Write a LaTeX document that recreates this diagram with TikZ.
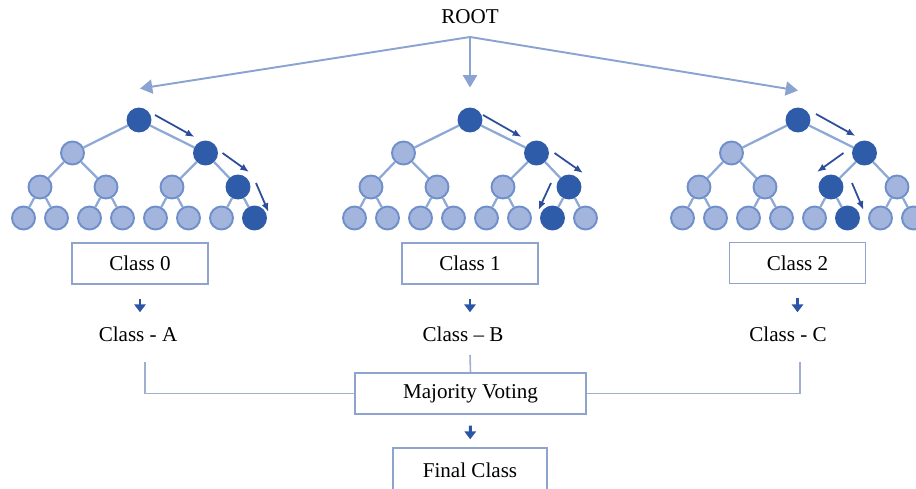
\documentclass[tikz,border=0pt]{standalone}
\usepackage{fontspec}
\setmainfont{Liberation Serif}
\usetikzlibrary{arrows.meta}
\usetikzlibrary{calc}
\definecolor{beadfill}{HTML}{A3B5DC}
\definecolor{beadline}{HTML}{6F8FCB}
\definecolor{hotblue}{HTML}{2F5CA9}
\definecolor{edgeblue}{HTML}{8EA9D6}
\definecolor{walkblue}{HTML}{2B4D9B}
\definecolor{fanblue}{HTML}{8BA3D1}
\definecolor{boxline}{HTML}{8FA3CF}
\definecolor{wireblue}{HTML}{A0AED0}
\definecolor{downblue}{HTML}{2D55A5}
\tikzset{
bead/.style={ % plain tree node
circle, draw=beadline, fill=beadfill,
line width=1.1pt, minimum size=0.46cm, inner sep=0pt},
hot/.style={ % node on the decision path
bead, draw=hotblue, fill=hotblue},
branch/.style={draw=edgeblue, line width=1.3pt},
walk/.style={ % path hint arrows
draw=walkblue, line width=1pt, -{Latex[length=5pt,width=4pt]}},
fan/.style={draw=fanblue, line width=1.1pt, -{Triangle[length=7pt,width=8pt]}},
classbox/.style={draw=boxline, line width=0.8pt,
minimum width=2.72cm, minimum height=0.82cm},
down/.style={draw=downblue, line width=1.7pt, -{Triangle[length=4.5pt,width=6.5pt]}},
wire/.style={draw=wireblue, line width=0.9pt},
tag/.style={inner sep=0pt}}

\begin{document}
\begin{tikzpicture}[x=0.02cm, y=-0.02cm, font=\fontsize{12}{14}\selectfont]
\clip (0,0) rectangle (916,489);
\node (root) at (470,17) {ROOT};
\coordinate (fork) at (470,37);

% three trees: root x, dark node on level 3 and level 4
\foreach \t/\rx/\hc/\hl in {1/139/3/7, 2/470/3/6, 3/798/2/5} {
\node[hot] (t\t-1-0) at (\rx,120) {};
\foreach \j in {0,1} {
\ifnum\j=1 \tikzset{pick/.style=hot}\else\tikzset{pick/.style=bead}\fi
\node[pick] (t\t-2-\j) at ({\rx+(\j-0.5)*133},153) {};
\draw[branch] (t\t-1-0) -- (t\t-2-\j);
}
\foreach \j in {0,...,3} {
\ifnum\j=\hc \tikzset{pick/.style=hot}\else\tikzset{pick/.style=bead}\fi
\pgfmathtruncatemacro\p{\j/2}
\node[pick] (t\t-3-\j) at ({\rx+(\j-1.5)*66},187) {};
\draw[branch] (t\t-2-\p) -- (t\t-3-\j);
}
\foreach \j in {0,...,7} {
\ifnum\j=\hl \tikzset{pick/.style=hot}\else\tikzset{pick/.style=bead}\fi
\pgfmathtruncatemacro\p{\j/2}
\node[pick] (t\t-4-\j) at ({\rx+(\j-3.5)*33},218) {};
\draw[branch] (t\t-3-\p) -- (t\t-4-\j);
}
}

% arrows from the root
\draw[fan] (fork) -- ($(t1-1-0.north)+(1,-19)$);
\draw[fan] (fork) -- ($(t2-1-0.north)+(0,-20)$);
\draw[fan] (fork) -- ($(t3-1-0.north)+(0,-17)$);

% decision paths
\draw[walk] ($(t1-1-0)+(16,-5)$) -- ($(t1-2-1)+(-11,-16)$);
\draw[walk] ($(t1-2-1)+(17,0)$) -- ($(t1-3-3)+(11,-15)$);
\draw[walk] ($(t1-3-3)+(18,-4)$) -- ($(t1-4-7)+(14,-6)$);
\draw[walk] ($(t2-1-0)+(13,-5)$) -- ($(t2-2-1)+(-15,-16)$);
\draw[walk] ($(t2-2-1)+(18,0)$) -- ($(t2-3-3)+(14,-14)$);
\draw[walk] ($(t2-3-3)+(-18,-4)$) -- ($(t2-4-6)+(-14,-8)$);
\draw[walk] ($(t3-1-0)+(18,-6)$) -- ($(t3-2-1)+(-9,-17)$);
\draw[walk] ($(t3-2-1)+(-21,0)$) -- ($(t3-3-2)+(-14,-15)$);
\draw[walk] ($(t3-3-2)+(21,-4)$) -- ($(t3-4-5)+(16,-8)$);

% class boxes and results
\node[classbox] (c0) at (140,263.5) {Class 0};
\node[classbox] (c1) at (470,263.5) {Class 1};
\node[classbox] (c2) at (797.5,263) {Class 2};
\node[tag] (cA) at (138,334) {Class - A};
\node[tag] (cB) at (463,334) {Class – B};
\node[tag] (cC) at (788,334) {Class - C};
\draw[down, shorten <=0.28cm, shorten >=0.28cm] (c0.south) -- (c0.south |- cA.north);
\draw[down, shorten <=0.28cm, shorten >=0.28cm] (c1.south) -- (c1.south |- cB.north);
\draw[down, shorten <=0.28cm, shorten >=0.28cm] (c2.south) -- (c2.south |- cC.north);

\node[classbox, minimum width=4.62cm] (vote) at (470.5,393.5) {Majority Voting};
\coordinate (jA) at (145,362);
\coordinate (jB) at (470,355);
\coordinate (jC) at (800,362);
\draw[wire] (jA) |- (vote.west);
\draw[wire] (jB) -- (vote.north);
\draw[wire] (jC) |- (vote.east);

\node[classbox, minimum width=3.08cm, minimum height=0.88cm] (final) at (470,470) {Final Class};
\draw[down, shorten <=0.22cm, shorten >=0.16cm] (vote) -- (final);
\end{tikzpicture}
\end{document}
